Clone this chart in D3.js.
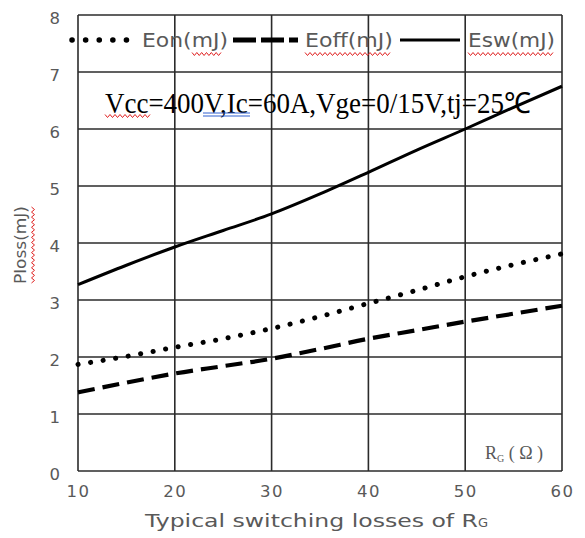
<!DOCTYPE html>
<html><head><meta charset="utf-8">
<script src="https://cdn.jsdelivr.net/npm/d3@7"></script>
<style>body{margin:0;background:#fff}svg{display:block}</style>
</head><body><svg id="c" width="585" height="538"></svg>
<script>
const rg = [10, 15, 20, 25, 30, 35, 40, 45, 50, 55, 60];
const eon = [1.87, 2.01, 2.17, 2.32, 2.50, 2.71, 2.94, 3.17, 3.41, 3.62, 3.81];
const eoff = [1.38, 1.55, 1.71, 1.84, 1.97, 2.14, 2.32, 2.47, 2.62, 2.76, 2.90];
const esw = [3.27, 3.61, 3.93, 4.22, 4.51, 4.86, 5.24, 5.63, 6.00, 6.38, 6.75];
const xTicks = [10, 20, 30, 40, 50, 60];
const yTicks = [0, 1, 2, 3, 4, 5, 6, 7, 8];
const legendLabels = ["Eon(mJ)", "Eoff(mJ)", "Esw(mJ)"];
const annotation = "Vcc=400V,Ic=60A,Vge=0/15V,tj=25℃";

const svg = d3.select("#c");
const L = 78, R = 562, T = 15, B = 471;
const x = d3.scaleLinear().domain([10, 60]).range([L, R]);
const y = d3.scaleLinear().domain([0, 8]).range([B, T]);
const grid = "#2b2b2b", gray = "#595959";
const sans = "DejaVu Sans, Verdana, sans-serif";

// grid
const g = svg.append("g");
xTicks.forEach(t => g.append("line").attr("x1", x(t)).attr("x2", x(t)).attr("y1", T).attr("y2", B)
  .attr("stroke", grid).attr("stroke-width", 1.6));
yTicks.forEach(t => g.append("line").attr("x1", L).attr("x2", R).attr("y1", y(t)).attr("y2", y(t))
  .attr("stroke", grid).attr("stroke-width", 1.6));

// axes labels via d3 axes (no domain/ticks lines)
const xa = svg.append("g").attr("transform", `translate(0,${B})`)
  .call(d3.axisBottom(x).tickValues(xTicks).tickSize(0).tickPadding(14));
xa.select(".domain").remove();
xa.selectAll("text").attr("fill", gray).attr("font-family", sans).attr("font-size", 16.5).attr("letter-spacing", 1.5);
const ya = svg.append("g").attr("transform", `translate(${L},0)`)
  .call(d3.axisLeft(y).tickValues(yTicks).tickSize(0).tickPadding(18));
ya.select(".domain").remove();
ya.selectAll("text").attr("fill", gray).attr("font-family", sans).attr("font-size", 16.5).attr("dy", "0.5em");

// series
const line = d3.line().x((d, i) => x(rg[i])).y(d => y(d)).curve(d3.curveMonotoneX);
svg.append("path").datum(esw).attr("d", line).attr("fill", "none").attr("stroke", "#000").attr("stroke-width", 3);
svg.append("path").datum(eoff).attr("d", line).attr("fill", "none").attr("stroke", "#000").attr("stroke-width", 4.2)
  .attr("stroke-dasharray", "17,8");
svg.append("path").datum(eon).attr("d", line).attr("fill", "none").attr("stroke", "#000").attr("stroke-width", 5)
  .attr("stroke-linecap", "round").attr("stroke-dasharray", "0.1,12.6");

// squiggle helper
function wavy(x1, x2, yy, vertical) {
  let p = "";
  const n = Math.round(Math.abs(x2 - x1) / 2.5);
  for (let i = 0; i <= n; i++) {
    const a = x1 + (x2 - x1) * i / n;
    const b = yy + (i % 2 ? 1.5 : -1.5);
    p += (i ? "L" : "M") + (vertical ? `${b},${a}` : `${a},${b}`);
  }
  svg.append("path").attr("d", p).attr("fill", "none").attr("stroke", "#e02020").attr("stroke-width", 1);
}

// legend
const ly = 40;
const lg = svg.append("g");
lg.append("line").attr("x1", 72).attr("x2", 128).attr("y1", ly).attr("y2", ly).attr("stroke", "#000")
  .attr("stroke-width", 5.5).attr("stroke-linecap", "round").attr("stroke-dasharray", "0.1,13.5");
lg.append("line").attr("x1", 233).attr("x2", 298).attr("y1", ly).attr("y2", ly).attr("stroke", "#000")
  .attr("stroke-width", 5).attr("stroke-dasharray", "23,5");
lg.append("line").attr("x1", 400).attr("x2", 460).attr("y1", ly).attr("y2", ly).attr("stroke", "#000").attr("stroke-width", 3);
const lx = [142, 305, 468];
const lw = [86, 88, 87];
legendLabels.forEach((t, i) => lg.append("text").attr("x", lx[i]).attr("y", ly + 7).text(t)
  .attr("fill", gray).attr("font-family", sans).attr("font-size", 19)
  .attr("textLength", lw[i]).attr("lengthAdjust", "spacingAndGlyphs"));
wavy(192, 221, 54); wavy(305, 390, 54); wavy(468, 553, 54);

// annotation
svg.append("text").attr("x", 105).attr("y", 113).text(annotation)
  .attr("font-family", "Liberation Serif, Times New Roman, serif").attr("font-size", 29)
  .attr("textLength", 426).attr("lengthAdjust", "spacingAndGlyphs").attr("fill", "#000");
wavy(105, 150, 116);
svg.append("line").attr("x1", 203).attr("x2", 250).attr("y1", 113).attr("y2", 113).attr("stroke", "#3060d0").attr("stroke-width", 1);
svg.append("line").attr("x1", 203).attr("x2", 250).attr("y1", 116).attr("y2", 116).attr("stroke", "#3060d0").attr("stroke-width", 1);

// y title
svg.append("text").attr("transform", "translate(26,245) rotate(-90)").attr("text-anchor", "middle")
  .text("Ploss(mJ)").attr("fill", gray).attr("font-family", sans).attr("font-size", 16)
  .attr("textLength", 78).attr("lengthAdjust", "spacingAndGlyphs");
wavy(207, 283, 33, true);

// Rg label
const rl = svg.append("text").attr("x", 485).attr("y", 459).attr("fill", gray)
  .attr("font-family", "Liberation Serif, Times New Roman, serif").attr("font-size", 18);
rl.append("tspan").text("R");
rl.append("tspan").text("G").attr("font-size", 10).attr("dy", 3);
rl.append("tspan").text(" ( Ω )").attr("dy", -3);

// x title
const xt = svg.append("text").attr("x", 145).attr("y", 527).attr("fill", gray)
  .attr("font-family", sans).attr("font-size", 18);
xt.append("tspan").text("Typical switching losses of R").attr("textLength", 333).attr("lengthAdjust", "spacingAndGlyphs");
xt.append("tspan").text("G").attr("font-size", 13);
</script></body></html>
